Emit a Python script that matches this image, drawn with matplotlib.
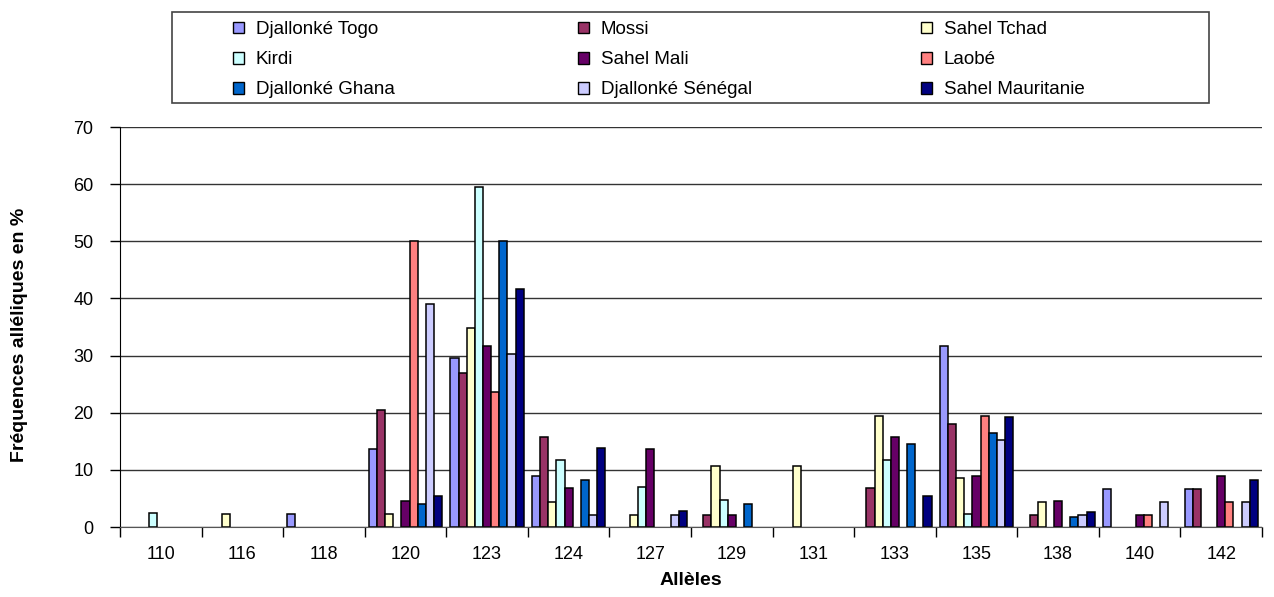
import numpy as np
import matplotlib
matplotlib.use("Agg")
import matplotlib.pyplot as plt
from matplotlib.patches import Rectangle, Patch

plt.rcParams['font.family'] = ['Liberation Sans', 'DejaVu Sans']

# allele sizes on the x axis
alleles = ['110', '116', '118', '120', '123', '124', '127', '129',
           '131', '133', '135', '138', '140', '142']

# allele frequencies (%) per population
djallonke_togo = [0, 0, 2.2, 13.6, 29.5, 8.9, 0, 0, 0, 0, 31.7, 0, 6.7, 6.7]
mossi = [0, 0, 0, 20.4, 27.0, 15.8, 0, 2.1, 0, 6.8, 18.0, 2.1, 0, 6.7]
sahel_tchad = [0, 2.2, 0, 2.2, 34.8, 4.3, 2.1, 10.7, 10.7, 19.5, 8.5, 4.3, 0, 0]
kirdi = [2.4, 0, 0, 0, 59.5, 11.8, 7.0, 4.8, 0, 11.8, 2.3, 0, 0, 0]
sahel_mali = [0, 0, 0, 4.5, 31.7, 6.8, 13.6, 2.1, 0, 15.8, 8.9, 4.5, 2.1, 8.9]
laobe = [0, 0, 0, 50.0, 23.7, 0, 0, 0, 0, 0, 19.5, 0, 2.1, 4.3]
djallonke_ghana = [0, 0, 0, 4.1, 50.0, 8.3, 0, 4.1, 0, 14.5, 16.5, 1.8, 0, 0]
djallonke_senegal = [0, 0, 0, 39.0, 30.3, 2.1, 2.1, 0, 0, 0, 15.2, 2.1, 4.3, 4.3]
sahel_mauritanie = [0, 0, 0, 5.4, 41.6, 13.9, 2.8, 0, 0, 5.5, 19.3, 2.7, 0, 8.3]

series_names = ['Djallonké Togo', 'Mossi', 'Sahel Tchad', 'Kirdi', 'Sahel Mali',
                'Laobé', 'Djallonké Ghana', 'Djallonké Sénégal', 'Sahel Mauritanie']
series_values = [djallonke_togo, mossi, sahel_tchad, kirdi, sahel_mali,
                 laobe, djallonke_ghana, djallonke_senegal, sahel_mauritanie]
colors = ['#9999FF', '#993366', '#FFFFCC', '#CCFFFF', '#660066',
          '#FF8080', '#0066CC', '#CCCCFF', '#000080']

W, H = 1274, 597
fig = plt.figure(figsize=(W / 100, H / 100), dpi=100)
ax = fig.add_axes([120 / W, 1 - 527 / H, (1262 - 120) / W, 400 / H])

x = np.arange(len(alleles))
n = len(series_values)
bar_w = 0.1
for i, (vals, col) in enumerate(zip(series_values, colors)):
    offs = (i - (n - 1) / 2) * bar_w
    # no outline for empty bars, like Excel
    lw = [1.1 if v > 0 else 0 for v in vals]
    ax.bar(x + offs, vals, width=bar_w, color=col, edgecolor='black',
           linewidth=lw, zorder=3)

ax.set_ylim(0, 70)
ax.set_yticks(range(0, 71, 10))
ax.set_xlim(-0.5, 13.5 - 10 / 82.3)
ax.set_xticks(x)
ax.set_xticklabels(alleles)
ax.set_xticks(np.arange(-0.5, 14, 1), minor=True)
ax.tick_params(axis='x', which='major', length=0, pad=14, labelsize=13)
ax.tick_params(axis='x', which='minor', length=7, width=1, direction='out')
ax.tick_params(axis='y', length=7, width=1, direction='out', pad=12, labelsize=13)

ax.grid(axis='y', color='#333333', linewidth=1.0)
ax.set_axisbelow(True)
for s in ['top', 'right']:
    ax.spines[s].set_visible(False)
ax.spines['left'].set_color('black')
ax.spines['bottom'].set_color('#555555')
ax.spines['bottom'].set_zorder(4)

ax.set_xlabel('Allèles', fontsize=14, fontweight='bold', labelpad=6)
fig.text(20 / W, 1 - 335 / H, 'Fréquences alléliques en %', rotation=90,
         fontsize=14, fontweight='bold', ha='center', va='center')

# legend: Excel-style box with three columns filled row by row
fig.patches.append(Rectangle((172 / W, 1 - 103 / H), (1209 - 172) / W, 91 / H,
                             transform=fig.transFigure, facecolor='white',
                             edgecolor='#444444', linewidth=1.2))
col_x = [220, 565, 908]
for c in range(3):
    idx = [c, c + 3, c + 6]
    handles = [Patch(facecolor=colors[k], edgecolor='black', linewidth=1.0) for k in idx]
    labels = [series_names[k] for k in idx]
    fig.legend(handles, labels, loc='upper left',
               bbox_to_anchor=(col_x[c] / W, 1 - 8 / H),
               frameon=False, fontsize=13.5, handlelength=0.6, handleheight=0.6,
               handletextpad=0.6, labelspacing=0.7, borderpad=0.2)

fig.savefig('out.png', dpi=100, facecolor='white')
